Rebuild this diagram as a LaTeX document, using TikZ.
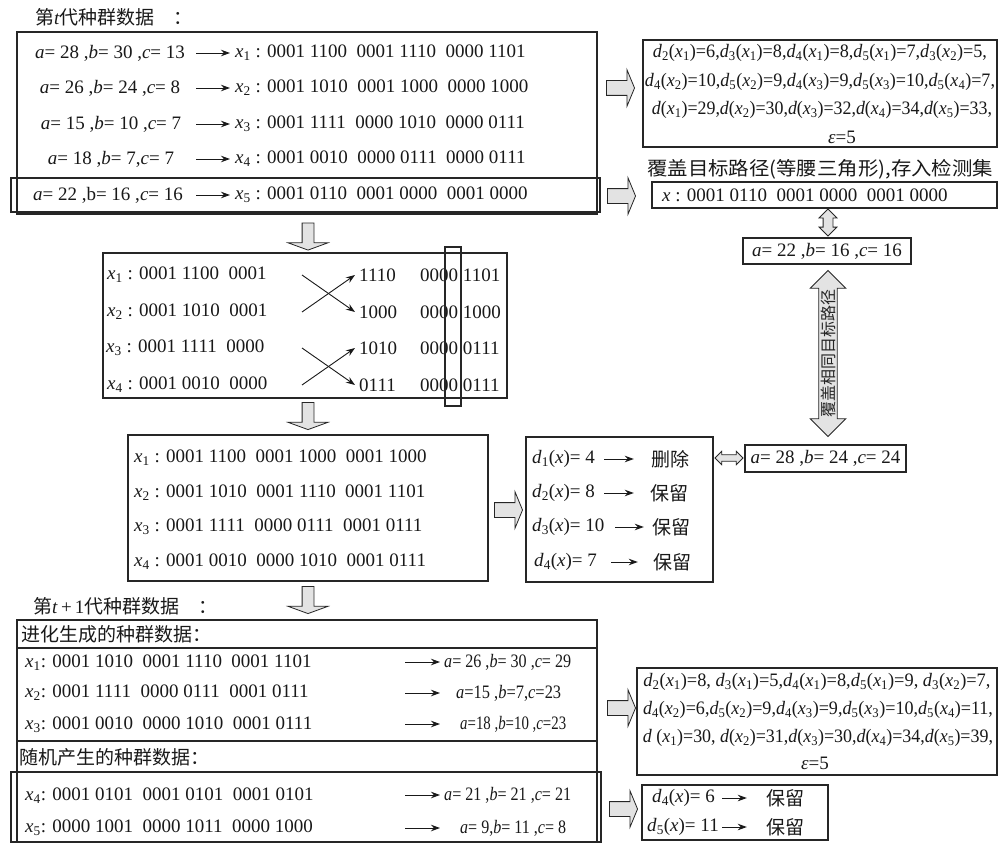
\documentclass[tikz,border=0pt]{standalone}
\usepackage{fontspec}
\usepackage{graphicx}
\setmainfont{Liberation Serif}
\newfontfamily\cjk{Noto Sans CJK SC}
\usetikzlibrary{shapes.arrows,arrows.meta}
\newcommand\zh[1]{{\cjk #1}}
\newcommand\iv[1]{\textit{#1}}
\newcommand\xs[1]{\textit{x}\textsubscript{#1}}
\newcommand\dxy[2]{\textit{d}\textsubscript{#1}(\textit{x}\textsubscript{#2})}
\newcommand\dnx[1]{\textit{d}(\textit{x}\textsubscript{#1})}
\newcommand\dsx[1]{\textit{d}\textsubscript{#1}(\textit{x})}
\newcommand\abc[3]{\textit{a}= #1 ,\textit{b}= #2 ,\textit{c}= #3}
\newcommand\gap{\hspace{0.5em}}
\newcommand\fs{\fontsize{19}{22}\selectfont}
\newcommand\fw[2]{\resizebox{#1pt}{\height}{#2}}
\newcommand\bxn[5]{\node[bx,minimum width=#4pt-#2pt,minimum height=#5pt-#3pt] (#1) at (#2,#3) {};}
\begin{document}
\begin{tikzpicture}[x=1pt,y=-1pt,
  bx/.style={draw=black!85,line width=1.1pt,inner sep=0pt,outer sep=0pt,anchor=north west},
  tx/.style={inner sep=0pt,font=\fs,text=black!90},
  arr/.style={line width=0.9pt,draw=black!90,-{Stealth[length=9pt,width=6.5pt]}},
  hol/.style={draw=black!85,fill=gray!22,line width=0.8pt},
  hra/.style={hol,single arrow,inner sep=7pt,single arrow head extend=11pt,single arrow tip angle=135,minimum height=28pt},
  hda/.style={hol,single arrow,shape border rotate=270,inner sep=5.5pt,single arrow head extend=14pt,single arrow tip angle=140,minimum height=27pt},
  dbl/.style={hol,double arrow}]
\useasboundingbox (0,0) rectangle (999,843);
\fill[white] (0,0) rectangle (999,843);

% ---------- generation t ----------
\node[tx,anchor=west] (T1) at (35,17) {\zh{第}\iv{t}\zh{代种群数据}\quad\zh{：}};
\bxn{B1}{17}{32}{597}{214}
\bxn{H5}{11}{178}{600}{212}
\node[tx] (f1) at (110,53) {\abc{28}{30}{13}};
\node[tx] (f2) at (110,88) {\abc{26}{24}{8}};
\node[tx] (f3) at (111,124) {\abc{15}{10}{7}};
\node[tx] (f4) at (111,159) {\iv{a}= 18 ,\iv{b}= 7,\iv{c}= 7};
\node[tx] (f5) at (108,195) {\iv{a}= 22 ,b= 16 ,\iv{c}= 16};
\node[tx,anchor=west] (x1) at (235,53) {\xs{1} : 0001 1100\gap 0001 1110\gap 0000 1101};
\node[tx,anchor=west] (x2) at (235,88) {\xs{2} : 0001 1010\gap 0001 1000\gap 0000 1000};
\node[tx,anchor=west] (x3) at (235,124) {\xs{3} : 0001 1111\gap 0000 1010\gap 0000 0111};
\node[tx,anchor=west] (x4) at (235,159) {\xs{4} : 0001 0010\gap 0000 0111\gap 0000 0111};
\node[tx,anchor=west] (x5) at (235,195) {\xs{5} : 0001 0110\gap 0001 0000\gap 0001 0000};
\foreach \i in {1,...,5} \draw[arr] (196,0 |- x\i.west) -- ([xshift=-5pt]x\i.west);

% ---------- right column, top ----------
\node[hra] (ha1) at (619,88) {};
\bxn{R1}{643}{40}{997}{147}
\node[tx] (r1a) at (820,53) {\fw{334}{\dxy{2}{1}=6,\dxy{3}{1}=8,\dxy{4}{1}=8,\dxy{5}{1}=7,\dxy{3}{2}=5,}};
\node[tx] (r1b) at (820,82) {\fw{350}{\dxy{4}{2}=10,\dxy{5}{2}=9,\dxy{4}{3}=9,\dxy{5}{3}=10,\dxy{5}{4}=7,}};
\node[tx] (r1c) at (822,110) {\fw{340}{\dnx{1}=29,\dnx{2}=30,\dnx{3}=32,\dnx{4}=34,\dnx{5}=33,}};
\node[tx] (r1d) at (842,137) {\iv{ε}=5};

\node[hra] (ha2) at (620,196) {};
\node[tx,anchor=west] (lab) at (647,169) {\fw{346}{\zh{覆盖目标路径(等腰三角形),存入检测集}}};
\bxn{R2}{652}{182}{997}{208}
\node[tx,anchor=west] (r2t) at (662,195) {\iv{x} : 0001 0110\gap 0001 0000\gap 0001 0000};
\node[dbl,shape border rotate=90,inner sep=4.5pt,double arrow head extend=4pt,minimum height=27pt] (da1) at (828,222.5) {};
\bxn{R3}{743}{238}{911}{264}
\node[tx] (r3t) at (R3) {\abc{22}{16}{16}};
\node[dbl,rotate=90,inner xsep=0pt,inner ysep=1.5pt,double arrow head extend=8.5pt,minimum height=166pt,font=\cjk\fontsize{16}{16}\selectfont,text=black!85] (da2) at (828,353.5) {覆盖相同目标路径};
\bxn{R4}{745}{445}{906}{472}
\node[tx] (r4t) at (R4) {\abc{28}{24}{24}};
\node[dbl,inner sep=2.8pt,double arrow head extend=3.5pt,minimum height=28pt] (da3) at (729,458) {};

% ---------- crossover ----------
\node[hda] (hd1) at (308,235.5) {};
\bxn{B2}{103}{253}{507}{398}
\node[tx,anchor=west] (L1) at (107,275) {\xs{1} : 0001 1100\gap 0001};
\node[tx,anchor=west] (L2) at (107,312) {\xs{2} : 0001 1010\gap 0001};
\node[tx,anchor=west] (L3) at (106,348) {\xs{3} : 0001 1111\gap 0000};
\node[tx,anchor=west] (L4) at (107,385) {\xs{4} : 0001 0010\gap 0000};
\node[tx,anchor=west] (M1) at (359,275) {1110};
\node[tx,anchor=west] (M2) at (359,312) {1000};
\node[tx,anchor=west] (M3) at (359,348) {1010};
\node[tx,anchor=west] (M4) at (359,385) {0111};
\node[tx,anchor=west] (N1) at (420,275) {0000 1101};
\node[tx,anchor=west] (N2) at (420,312) {0000 1000};
\node[tx,anchor=west] (N3) at (420,348) {0000 0111};
\node[tx,anchor=west] (N4) at (420,385) {0000 0111};
\bxn{TR}{445}{247}{461}{406}
\draw[arr] (302,0 |- L1.west) -- ([xshift=-4pt]M2.west);
\draw[arr] (302,0 |- L2.west) -- ([xshift=-4pt]M1.west);
\draw[arr] (302,0 |- L3.west) -- ([xshift=-4pt]M4.west);
\draw[arr] (302,0 |- L4.west) -- ([xshift=-4pt]M3.west);

% ---------- after crossover ----------
\node[hda] (hd2) at (308,415) {};
\bxn{B3}{128}{435}{488}{581}
\node[tx,anchor=west] (C1) at (134,458) {\xs{1} : 0001 1100\gap 0001 1000\gap 0001 1000};
\node[tx,anchor=west] (C2) at (134,493) {\xs{2} : 0001 1010\gap 0001 1110\gap 0001 1101};
\node[tx,anchor=west] (C3) at (134,527) {\xs{3} : 0001 1111\gap 0000 0111\gap 0001 0111};
\node[tx,anchor=west] (C4) at (134,562) {\xs{4} : 0001 0010\gap 0000 1010\gap 0001 0111};
\node[hra] (ha3) at (507,510) {};
\bxn{B4}{526}{437}{713}{582}
\node[tx,anchor=west] (e1) at (532,459) {\dsx{1}= 4};
\node[tx,anchor=west] (e2) at (532,493) {\dsx{2}= 8};
\node[tx,anchor=west] (e3) at (532,527) {\dsx{3}= 10};
\node[tx,anchor=west] (e4) at (534,562) {\dsx{4}= 7};
\node[tx] (k1) at (670,459) {\zh{删除}};
\node[tx] (k2) at (669,493) {\zh{保留}};
\node[tx] (k3) at (671,527) {\zh{保留}};
\node[tx] (k4) at (672,562) {\zh{保留}};
\draw[arr] (604,0 |- e1.west) -- ([xshift=-17pt]k1.west);
\draw[arr] (604,0 |- e2.west) -- ([xshift=-16pt]k2.west);
\draw[arr] (615,0 |- e3.west) -- ([xshift=-8pt]k3.west);
\draw[arr] (611,0 |- e4.west) -- ([xshift=-15pt]k4.west);

% ---------- generation t+1 ----------
\node[hda] (hd3) at (308,599) {};
\node[tx,anchor=west] (T2) at (33,606) {\zh{第}\iv{t}\,+\,1\zh{代种群数据}\quad\zh{：}};
\bxn{B5}{17}{620}{597}{842}
\node[tx,anchor=west] (h1) at (21,634) {\zh{进化生成的种群数据：}};
\bxn{B6}{17}{648}{597}{741}
\node[tx,anchor=west] (y1) at (25,663) {\xs{1}: 0001 1010\gap 0001 1110\gap 0001 1101};
\node[tx,anchor=west] (y2) at (25,693) {\xs{2}: 0001 1111\gap 0000 0111\gap 0001 0111};
\node[tx,anchor=west] (y3) at (25,725) {\xs{3}: 0001 0010\gap 0000 1010\gap 0001 0111};
\node[tx,anchor=west] (z1) at (444,662) {\fw{127}{\abc{26}{30}{29}}};
\node[tx,anchor=west] (z2) at (456,693) {\fw{105}{\iv{a}=15 ,\iv{b}=7,\iv{c}=23}};
\node[tx,anchor=west] (z3) at (460,724) {\fw{106}{\iv{a}=18 ,\iv{b}=10 ,\iv{c}=23}};
\node[tx,anchor=west] (h2) at (19,757) {\zh{随机产生的种群数据：}};
\bxn{B7}{11}{772}{601}{842}
\node[tx,anchor=west] (y4) at (25,796) {\xs{4}: 0001 0101\gap 0001 0101\gap 0001 0101};
\node[tx,anchor=west] (y5) at (25,828) {\xs{5}: 0000 1001\gap 0000 1011\gap 0000 1000};
\node[tx,anchor=west] (z4) at (444,795) {\fw{127}{\abc{21}{21}{21}}};
\node[tx,anchor=west] (z5) at (460,828) {\fw{106}{\iv{a}= 9,\iv{b}= 11 ,\iv{c}= 8}};
\foreach \i in {1,...,5} \draw[arr] (405,0 |- z\i.west) -- (440,0 |- z\i.west);

% ---------- right column, bottom ----------
\node[hra] (ha4) at (620,708) {};
\bxn{R5}{637}{668}{997}{775}
\node[tx] (r5a) at (817,682) {\fw{347}{\dxy{2}{1}=8, \dxy{3}{1}=5,\dxy{4}{1}=8,\dxy{5}{1}=9, \dxy{3}{2}=7,}};
\node[tx] (r5b) at (818,710) {\fw{350}{\dxy{4}{2}=6,\dxy{5}{2}=9,\dxy{4}{3}=9,\dxy{5}{3}=10,\dxy{5}{4}=11,}};
\node[tx] (r5c) at (818,738) {\fw{350}{\iv{d} (\xs{1})=30, \dnx{2}=31,\dnx{3}=30,\dnx{4}=34,\dnx{5}=39,}};
\node[tx] (r5d) at (815,763) {\iv{ε}=5};
\node[hra] (ha5) at (622,809) {};
\bxn{R6}{642}{785}{828}{840}
\node[tx,anchor=west] (g1) at (652,798) {\dsx{4}= 6};
\node[tx,anchor=west] (g2) at (647,827) {\dsx{5}= 11};
\node[tx] (q1) at (785,798) {\zh{保留}};
\node[tx] (q2) at (785,827) {\zh{保留}};
\draw[arr] (722,0 |- g1.west) -- ([xshift=-19pt]q1.west);
\draw[arr] (722,0 |- g2.west) -- ([xshift=-19pt]q2.west);
\end{tikzpicture}
\end{document}
